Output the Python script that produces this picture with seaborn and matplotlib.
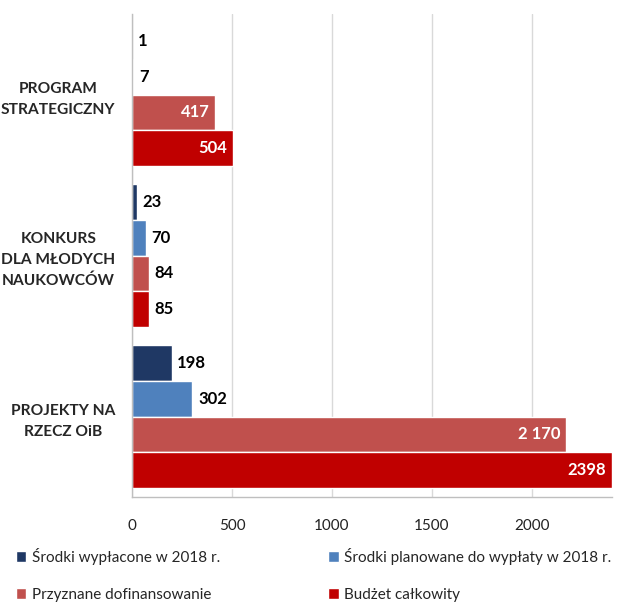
import pandas as pd
import matplotlib
matplotlib.use("Agg")
import matplotlib.pyplot as plt
import seaborn as sns

# dane z wykresu
kategorie = ["PROGRAM\nSTRATEGICZNY", "KONKURS\nDLA MŁODYCH\nNAUKOWCÓW", "PROJEKTY NA\nRZECZ OiB"]
serie = ["Środki wypłacone w 2018 r.",
         "Środki planowane do wypłaty w 2018 r.",
         "Przyznane dofinansowanie",
         "Budżet całkowity"]
wyplacone = [1, 23, 198]
planowane = [7, 70, 302]
przyznane = [417, 84, 2170]
budzet = [504, 85, 2398]
etykiety = [["1", "23", "198"],
            ["7", "70", "302"],
            ["417", "84", "2 170"],
            ["504", "85", "2398"]]
kolory = ["#1F3864", "#4F81BD", "#C0504D", "#C00000"]
osie_x = [0, 500, 1000, 1500, 2000]

wartosci = [wyplacone, planowane, przyznane, budzet]
rows = []
for s, vals in zip(serie, wartosci):
    for k, v in zip(kategorie, vals):
        rows.append({"kategoria": k, "seria": s, "wartosc": v})
df = pd.DataFrame(rows)

sns.set_style("white")
plt.rcParams["font.family"] = ["Lato", "DejaVu Sans"]

fig = plt.figure(figsize=(6.32, 6.04), dpi=100)
ax = fig.add_axes([132 / 632, 1 - 497 / 604, 480 / 632, 483 / 604])

sns.barplot(data=df, x="wartosc", y="kategoria", hue="seria", orient="h",
            palette=kolory, saturation=1, width=0.887, gap=0, ax=ax,
            order=kategorie, hue_order=serie)

ax.set_xlim(0, 2400)
ax.set_ylim(2.5, -0.5)
ax.set_xticks(osie_x)
ax.set_xlabel("")
ax.set_ylabel("")
ax.grid(axis="x", color="#d9d9d9", linewidth=1)
ax.set_axisbelow(True)
for side in ["top", "right"]:
    ax.spines[side].set_visible(False)
for side in ["left", "bottom"]:
    ax.spines[side].set_color("#bfbfbf")
    ax.spines[side].set_linewidth(1)
ax.tick_params(axis="x", length=0, pad=16, labelsize=11, labelcolor="#222222")
ax.tick_params(axis="y", length=0, pad=12)
for t in ax.get_yticklabels():
    t.set_fontweight("bold")
    t.set_fontsize(11.2)
    t.set_multialignment("center")
    t.set_linespacing(1.6)

# etykiety wartości: duże w środku słupka, małe obok
for cont, labs, vals in zip(ax.containers, etykiety, wartosci):
    for bar, lab, v in zip(cont, labs, vals):
        y = bar.get_y() + bar.get_height() / 2
        if v > 400:
            ax.annotate(lab, (v, y), xytext=(-4, 0), textcoords="offset points",
                        ha="right", va="center", color="white",
                        fontsize=12, fontweight="bold")
        else:
            ax.annotate(lab, (v, y), xytext=(4, 0), textcoords="offset points",
                        ha="left", va="center", color="black",
                        fontsize=12, fontweight="bold")

handles, labels = ax.get_legend_handles_labels()
ax.get_legend().remove()
kolejnosc = [0, 2, 1, 3]
fig.legend([handles[i] for i in kolejnosc], [labels[i] for i in kolejnosc],
           loc="upper left", bbox_to_anchor=(0.015, 0.103),
           ncol=2, frameon=False, fontsize=11, handlelength=0.7,
           handleheight=0.7, handletextpad=0.35, columnspacing=7.1,
           labelspacing=1.5, borderaxespad=0)

fig.savefig("out.png", dpi=100)
